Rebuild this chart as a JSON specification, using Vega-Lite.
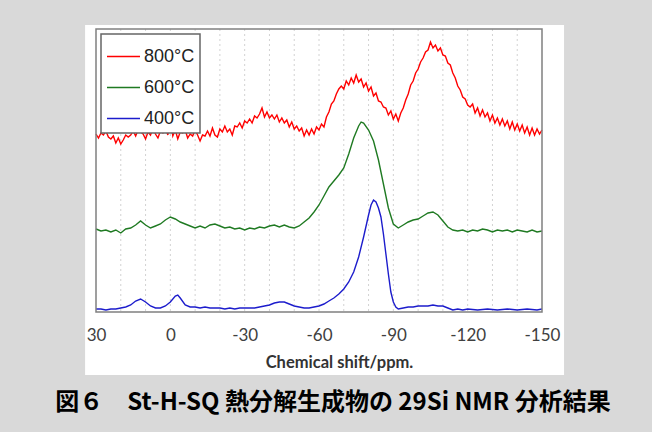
{
  "$schema": "https://vega.github.io/schema/vega-lite/v6.json",
  "width": 446,
  "height": 283,
  "autosize": {"type": "none"},
  "padding": {"left": 96, "top": 29, "right": 110, "bottom": 120},
  "background": "#d9d9d9",
  "config": {
    "view": {"stroke": null},
    "axisX": {"zindex": 1, "grid": false, "ticks": false, "tickSize": 0, "domain": false, "labelFont": "Lato", "labelFontSize": 17, "labelColor": "#404040", "labelPadding": 15, "labelFlush": false, "labelOverlap": false, "titleFont": "Lato", "titleFontSize": 16.5, "titleFontWeight": "bold", "titleColor": "#333333", "titleX": 243, "titleY": 55, "titleBaseline": "alphabetic", "titleAlign": "center"},
    "legend": {"orient": "none", "legendX": 5, "legendY": 5, "fillColor": "white", "strokeColor": "#666666", "strokeWidth": 1.5, "padding": 5, "symbolType": "stroke", "symbolSize": 1089, "symbolStrokeWidth": 1.5, "labelFont": "Liberation Sans", "labelFontSize": 18, "labelColor": "#222222", "labelOffset": 3, "rowPadding": 4}
  },
  "title": {"text": "図６　St-H-SQ 熱分解生成物の 29Si NMR 分析結果", "orient": "bottom", "anchor": "middle", "dx": 14, "offset": 16, "font": "Noto Sans CJK JP", "fontSize": 24, "fontWeight": "bold", "color": "#000000"},
  "layer": [
    {
      "data": {"values": [{"panel": "white"}]},
      "mark": {"type": "rect", "fill": "white", "clip": false},
      "encoding": {
        "x": {"datum": 34.4, "type": "quantitative", "scale": {"domain": [30, -150], "nice": false, "zero": false}, "title": "Chemical shift/ppm.", "axis": {"values": [30, 0, -30, -60, -90, -120, -150], "labelExpr": "replace(datum.label, '−', '-')", "zindex": 1}},
        "x2": {"datum": -158.9},
        "y": {"datum": 287, "type": "quantitative", "scale": {"domain": [0, 283], "nice": false, "zero": false}, "axis": null},
        "y2": {"datum": -63}
      }
    },
    {
      "data": {"values": [{"g": 20}, {"g": 10}, {"g": 0}, {"g": -10}, {"g": -20}, {"g": -30}, {"g": -40}, {"g": -50}, {"g": -60}, {"g": -70}, {"g": -80}, {"g": -90}, {"g": -100}, {"g": -110}, {"g": -120}, {"g": -130}, {"g": -140}]},
      "mark": {"type": "rule", "color": "#d2d2d2", "strokeDash": [2, 3], "strokeWidth": 1},
      "encoding": {"x": {"field": "g", "type": "quantitative", "title": "Chemical shift/ppm."}}
    },
    {
      "data": {"values": [
        {"x":30,"y":178},{"x":29,"y":174},{"x":28,"y":179},{"x":27,"y":177},{"x":26,"y":181},{"x":25,"y":175},{"x":24,"y":173},{"x":23,"y":176},{"x":22,"y":169},{"x":21,"y":174},
        {"x":20,"y":168},{"x":19,"y":172},{"x":18,"y":177},{"x":17,"y":175},{"x":16,"y":177},{"x":15,"y":181},{"x":14,"y":176},{"x":13,"y":182},{"x":12,"y":180},{"x":11,"y":178},
        {"x":10,"y":173},{"x":9,"y":180},{"x":8,"y":177},{"x":7,"y":184},{"x":6,"y":178},{"x":5,"y":174},{"x":4,"y":181},{"x":3,"y":179},{"x":2,"y":184},{"x":1,"y":177},
        {"x":0,"y":193},{"x":-1,"y":176},{"x":-2,"y":182},{"x":-3,"y":173},{"x":-4,"y":180},{"x":-5,"y":179},{"x":-6,"y":182},{"x":-7,"y":174},{"x":-8,"y":178},{"x":-9,"y":176},
        {"x":-10,"y":182},{"x":-11,"y":177},{"x":-12,"y":171},{"x":-13,"y":177},{"x":-14,"y":176},{"x":-15,"y":181},{"x":-16,"y":176},{"x":-17,"y":184},{"x":-18,"y":177},{"x":-19,"y":175},
        {"x":-20,"y":183},{"x":-21,"y":180},{"x":-22,"y":186},{"x":-23,"y":180},{"x":-24,"y":183},{"x":-25,"y":177},{"x":-26,"y":186},{"x":-27,"y":185},{"x":-28,"y":189},{"x":-29,"y":184},
        {"x":-30,"y":191},{"x":-31,"y":189},{"x":-32,"y":193},{"x":-33,"y":189},{"x":-34,"y":196},{"x":-35,"y":194},{"x":-36,"y":198},{"x":-37,"y":204},{"x":-38,"y":195},{"x":-39,"y":200},
        {"x":-40,"y":194},{"x":-41,"y":197},{"x":-42,"y":193},{"x":-43,"y":197},{"x":-44,"y":190},{"x":-45,"y":194},{"x":-46,"y":189},{"x":-47,"y":192},{"x":-48,"y":185},{"x":-49,"y":190},
        {"x":-50,"y":183},{"x":-51,"y":186},{"x":-52,"y":181},{"x":-53,"y":184},{"x":-54,"y":176},{"x":-55,"y":182},{"x":-56,"y":177},{"x":-57,"y":183},{"x":-58,"y":178},{"x":-59,"y":185},
        {"x":-60,"y":182},{"x":-61,"y":188},{"x":-62,"y":185},{"x":-63,"y":195},{"x":-64,"y":200},{"x":-65,"y":208},{"x":-66,"y":211},{"x":-67,"y":218},{"x":-68,"y":223},{"x":-69,"y":226},
        {"x":-70,"y":223},{"x":-71,"y":231},{"x":-72,"y":227},{"x":-73,"y":234},{"x":-74,"y":229},{"x":-75,"y":237},{"x":-76,"y":230},{"x":-77,"y":233},{"x":-78,"y":225},{"x":-79,"y":229},
        {"x":-80,"y":221},{"x":-81,"y":225},{"x":-82,"y":216},{"x":-83,"y":219},{"x":-84,"y":211},{"x":-85,"y":210},{"x":-86,"y":205},{"x":-87,"y":204},{"x":-88,"y":197},{"x":-89,"y":201},
        {"x":-90,"y":193},{"x":-91,"y":198},{"x":-92,"y":191},{"x":-93,"y":199},{"x":-94,"y":204},{"x":-95,"y":212},{"x":-96,"y":218},{"x":-97,"y":227},{"x":-98,"y":231},{"x":-99,"y":239},
        {"x":-100,"y":243},{"x":-101,"y":250},{"x":-102,"y":254},{"x":-103,"y":260},{"x":-104,"y":262},{"x":-105,"y":270},{"x":-106,"y":264},{"x":-107,"y":267},{"x":-108,"y":261},{"x":-109,"y":264},
        {"x":-110,"y":257},{"x":-111,"y":256},{"x":-112,"y":249},{"x":-113,"y":247},{"x":-114,"y":239},{"x":-115,"y":234},{"x":-116,"y":226},{"x":-117,"y":222},{"x":-118,"y":215},{"x":-119,"y":213},
        {"x":-120,"y":207},{"x":-121,"y":205},{"x":-122,"y":208},{"x":-123,"y":199},{"x":-124,"y":204},{"x":-125,"y":196},{"x":-126,"y":202},{"x":-127,"y":195},{"x":-128,"y":199},{"x":-129,"y":191},
        {"x":-130,"y":197},{"x":-131,"y":189},{"x":-132,"y":194},{"x":-133,"y":187},{"x":-134,"y":193},{"x":-135,"y":186},{"x":-136,"y":191},{"x":-137,"y":183},{"x":-138,"y":190},{"x":-139,"y":182},
        {"x":-140,"y":188},{"x":-141,"y":181},{"x":-142,"y":187},{"x":-143,"y":179},{"x":-144,"y":185},{"x":-145,"y":177},{"x":-146,"y":184},{"x":-147,"y":177},{"x":-148,"y":183},{"x":-149,"y":178},
        {"x":-150,"y":182}
      ]},
      "mark": {"type": "line", "strokeWidth": 1.4},
      "encoding": {
        "x": {"field": "x", "type": "quantitative", "title": "Chemical shift/ppm."},
        "y": {"field": "y", "type": "quantitative", "axis": null},
        "color": {"datum": "800°C", "title": null, "scale": {"domain": ["800°C", "600°C", "400°C"], "range": ["#ff0000", "#1f7a22", "#1c1ccc"]}}
      }
    },
    {
      "data": {"values": [
        {"x":30,"y":83},{"x":28,"y":81},{"x":26,"y":82},{"x":24,"y":80},{"x":22,"y":82},{"x":20,"y":79},{"x":18,"y":83},{"x":16,"y":84},{"x":14,"y":87},{"x":12,"y":91},
        {"x":10,"y":87},{"x":8,"y":84},{"x":6,"y":86},{"x":4,"y":88},{"x":2,"y":92},{"x":0,"y":95},{"x":-2,"y":93},{"x":-4,"y":90},{"x":-6,"y":88},{"x":-8,"y":86},
        {"x":-10,"y":84},{"x":-12,"y":86},{"x":-14,"y":84},{"x":-16,"y":87},{"x":-18,"y":88},{"x":-20,"y":86},{"x":-22,"y":84},{"x":-24,"y":85},{"x":-26,"y":83},{"x":-28,"y":84},
        {"x":-30,"y":82},{"x":-32,"y":84},{"x":-34,"y":83},{"x":-36,"y":85},{"x":-38,"y":84},{"x":-40,"y":86},{"x":-42,"y":87},{"x":-44,"y":85},{"x":-46,"y":87},{"x":-48,"y":85},
        {"x":-50,"y":84},{"x":-52,"y":86},{"x":-54,"y":90},{"x":-56,"y":94},{"x":-58,"y":100},{"x":-60,"y":107},{"x":-62,"y":116},{"x":-64,"y":125},{"x":-66,"y":131},{"x":-68,"y":137},
        {"x":-70,"y":144},{"x":-72,"y":158},{"x":-74,"y":174},{"x":-76,"y":186},{"x":-77,"y":190},{"x":-78,"y":189},{"x":-80,"y":182},{"x":-82,"y":171},{"x":-84,"y":152},{"x":-86,"y":128},
        {"x":-88,"y":104},{"x":-90,"y":88},{"x":-92,"y":84},{"x":-94,"y":87},{"x":-96,"y":90},{"x":-98,"y":92},{"x":-100,"y":93},{"x":-102,"y":96},{"x":-104,"y":99},{"x":-106,"y":100},
        {"x":-108,"y":97},{"x":-110,"y":91},{"x":-112,"y":85},{"x":-114,"y":82},{"x":-116,"y":81},{"x":-118,"y":82},{"x":-120,"y":80},{"x":-122,"y":82},{"x":-124,"y":81},{"x":-126,"y":83},
        {"x":-128,"y":82},{"x":-130,"y":80},{"x":-132,"y":82},{"x":-134,"y":81},{"x":-136,"y":82},{"x":-138,"y":80},{"x":-140,"y":82},{"x":-142,"y":81},{"x":-144,"y":80},{"x":-146,"y":82},
        {"x":-148,"y":80},{"x":-150,"y":81}
      ]},
      "mark": {"type": "line", "strokeWidth": 1.4},
      "encoding": {
        "x": {"field": "x", "type": "quantitative", "title": "Chemical shift/ppm."},
        "y": {"field": "y", "type": "quantitative", "axis": null},
        "color": {"datum": "600°C", "title": null}
      }
    },
    {
      "data": {"values": [
        {"x":30,"y":3},{"x":28,"y":3},{"x":26,"y":2},{"x":24,"y":3},{"x":22,"y":3},{"x":20,"y":4},{"x":18,"y":5},{"x":16,"y":7},{"x":14,"y":11},{"x":12,"y":13},
        {"x":10,"y":10},{"x":8,"y":6},{"x":6,"y":4},{"x":4,"y":4},{"x":2,"y":6},{"x":0,"y":10},{"x":-2,"y":16},{"x":-3,"y":17},{"x":-4,"y":14},{"x":-6,"y":7},
        {"x":-8,"y":5},{"x":-10,"y":5},{"x":-12,"y":4},{"x":-14,"y":5},{"x":-16,"y":4},{"x":-18,"y":4},{"x":-20,"y":4},{"x":-22,"y":3},{"x":-24,"y":4},{"x":-26,"y":3},
        {"x":-28,"y":4},{"x":-30,"y":4},{"x":-32,"y":4},{"x":-34,"y":4},{"x":-36,"y":5},{"x":-38,"y":6},{"x":-40,"y":7},{"x":-42,"y":9},{"x":-44,"y":10},{"x":-46,"y":10},
        {"x":-48,"y":8},{"x":-50,"y":6},{"x":-52,"y":5},{"x":-54,"y":4},{"x":-56,"y":4},{"x":-58,"y":5},{"x":-60,"y":6},{"x":-62,"y":8},{"x":-64,"y":11},{"x":-66,"y":14},
        {"x":-68,"y":18},{"x":-70,"y":23},{"x":-72,"y":30},{"x":-74,"y":40},{"x":-76,"y":55},{"x":-78,"y":75},{"x":-80,"y":97},{"x":-81,"y":107},{"x":-82,"y":112},{"x":-83,"y":110},
        {"x":-84,"y":104},{"x":-85,"y":95},{"x":-86,"y":78},{"x":-87,"y":58},{"x":-88,"y":38},{"x":-89,"y":20},{"x":-90,"y":10},{"x":-91,"y":5},{"x":-92,"y":3},{"x":-94,"y":4},
        {"x":-96,"y":5},{"x":-98,"y":5},{"x":-100,"y":6},{"x":-102,"y":6},{"x":-104,"y":6},{"x":-106,"y":7},{"x":-108,"y":6},{"x":-110,"y":6},{"x":-112,"y":4},{"x":-114,"y":2},
        {"x":-116,"y":3},{"x":-118,"y":2},{"x":-120,"y":3},{"x":-124,"y":2},{"x":-128,"y":3},{"x":-132,"y":2},{"x":-136,"y":3},{"x":-140,"y":2},{"x":-144,"y":3},{"x":-148,"y":2},
        {"x":-150,"y":3}
      ]},
      "mark": {"type": "line", "strokeWidth": 1.4},
      "encoding": {
        "x": {"field": "x", "type": "quantitative", "title": "Chemical shift/ppm."},
        "y": {"field": "y", "type": "quantitative", "axis": null},
        "color": {"datum": "400°C", "title": null}
      }
    },
    {
      "data": {"values": [{"panel": "frame"}]},
      "mark": {"type": "rect", "fill": null, "stroke": "#808080", "strokeWidth": 1.5},
      "encoding": {
        "x": {"datum": 30, "type": "quantitative"},
        "x2": {"datum": -150},
        "y": {"datum": 0, "type": "quantitative", "axis": null},
        "y2": {"datum": 283}
      }
    }
  ]
}
